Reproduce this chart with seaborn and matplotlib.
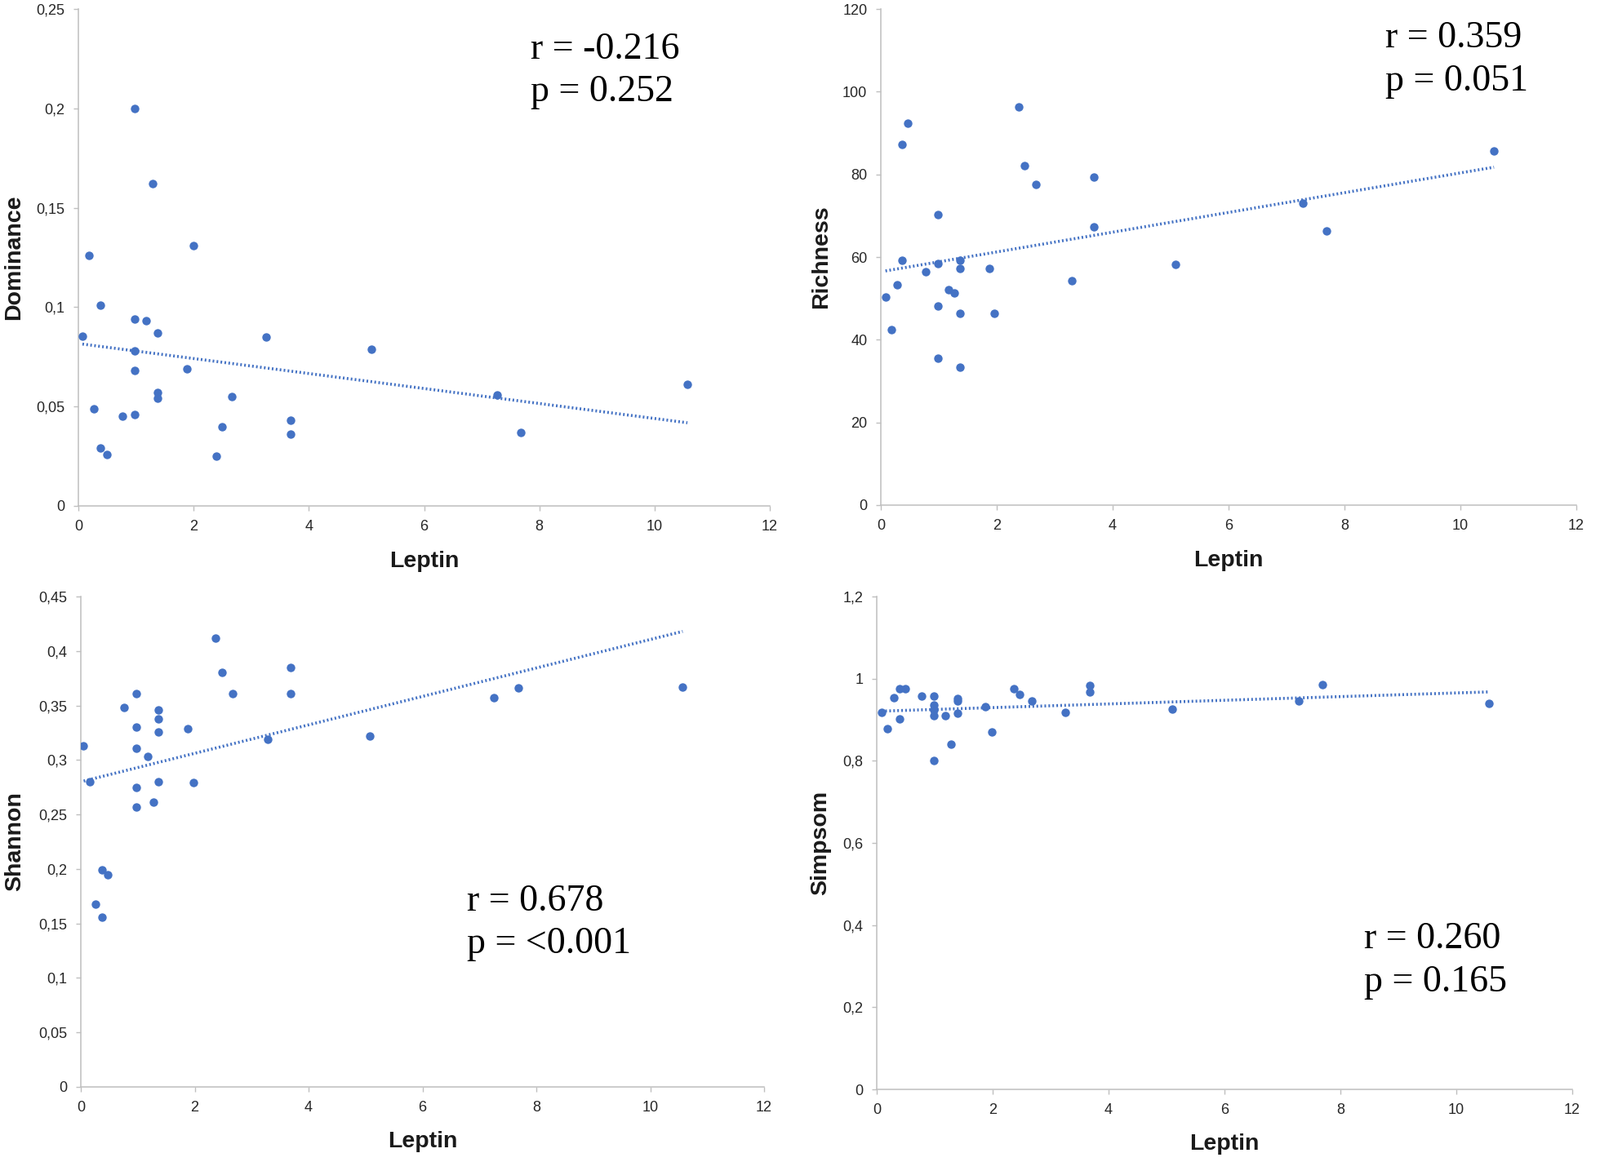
# Leptin vs gut diversity indices - 4 scatter panels with linear trend
import numpy as np
import matplotlib
matplotlib.use("Agg")
import matplotlib.pyplot as plt
import seaborn as sns
from matplotlib.ticker import FuncFormatter, MultipleLocator

# data
leptin_dom = [0.07, 0.18, 0.27, 0.38, 0.38, 0.49, 0.77, 0.98, 0.98, 0.98, 0.98, 0.98, 1.18, 1.29, 1.37,
              1.37, 1.37, 1.89, 2.00, 2.39, 2.49, 2.67, 3.26, 3.69, 3.69, 5.09, 7.27, 7.68, 10.57]
dominance = [0.0855, 0.126, 0.049, 0.101, 0.029, 0.026, 0.045, 0.200, 0.094, 0.078, 0.068, 0.046, 0.093, 0.162, 0.087,
             0.057, 0.054, 0.069, 0.131, 0.025, 0.040, 0.055, 0.085, 0.043, 0.036, 0.079, 0.056, 0.037, 0.061]

leptin_rich = [0.08, 0.18, 0.28, 0.36, 0.36, 0.47, 0.77, 0.99, 0.99, 0.99, 0.99, 1.17, 1.27, 1.37, 1.37,
               1.37, 1.37, 1.87, 1.96, 2.38, 2.48, 2.67, 3.29, 3.68, 3.68, 5.08, 7.28, 7.69, 10.58]
richness = [50.4, 42.4, 53.3, 87.3, 59.3, 92.3, 56.5, 70.2, 58.4, 48.2, 35.5, 52.2, 51.4, 59.3, 57.2,
            46.3, 33.3, 57.2, 46.3, 96.4, 82.2, 77.5, 54.3, 79.3, 67.3, 58.3, 73.1, 66.3, 85.6]

leptin_sha = [0.05, 0.16, 0.26, 0.37, 0.37, 0.47, 0.76, 0.97, 0.97, 0.97, 0.97, 0.97, 1.17, 1.28, 1.36,
              1.36, 1.36, 1.36, 1.88, 1.98, 2.37, 2.48, 2.66, 3.28, 3.68, 3.68, 5.08, 7.26, 7.68, 10.57]
shannon = [0.313, 0.280, 0.168, 0.199, 0.156, 0.195, 0.348, 0.361, 0.330, 0.311, 0.275, 0.257, 0.303, 0.261, 0.346,
           0.338, 0.326, 0.280, 0.329, 0.279, 0.412, 0.380, 0.361, 0.319, 0.385, 0.361, 0.322, 0.357, 0.366, 0.367]

leptin_sim = [0.08, 0.18, 0.29, 0.39, 0.39, 0.49, 0.77, 0.98, 0.98, 0.98, 0.98, 0.98, 1.19, 1.28, 1.40,
              1.40, 1.40, 1.88, 1.99, 2.37, 2.47, 2.68, 3.26, 3.68, 3.68, 5.10, 7.28, 7.69, 10.57]
simpsom = [0.917, 0.878, 0.953, 0.975, 0.902, 0.975, 0.957, 0.957, 0.936, 0.924, 0.909, 0.801, 0.909, 0.841, 0.951,
           0.945, 0.916, 0.932, 0.871, 0.975, 0.961, 0.946, 0.917, 0.983, 0.968, 0.925, 0.946, 0.986, 0.939]

y_names = ["Dominance", "Richness", "Shannon", "Simpsom"]
y_limits = [(0, 0.25), (0, 120), (0, 0.45), (0, 1.2)]
y_steps = [0.05, 20, 0.05, 0.2]
stats_text = [("r = -0.216", "p = 0.252"), ("r = 0.359", "p = 0.051"),
              ("r = 0.678", "p = <0.001"), ("r = 0.260", "p = 0.165")]

sns.set_style("white")
plt.rcParams["font.family"] = ["Liberation Sans", "DejaVu Sans"]

blue = "#4472C4"
W, H = 1960, 1424
fig = plt.figure(figsize=(W / 100, H / 100), dpi=100)

# axes boxes in pixels: left, top, right, bottom
boxes = [(96, 11, 943, 620), (1079, 11, 1931, 619), (99, 731, 936, 1332), (1074, 731, 1926, 1335)]
ylabel_x = [-0.078, -0.070, -0.081, -0.065]
# text spots: left x, baseline of first line, baseline of second line
text_pos = [(650, 72, 124), (1697, 58, 111), (572, 1116, 1168), (1671, 1162, 1215)]

xs = [leptin_dom, leptin_rich, leptin_sha, leptin_sim]
ys = [dominance, richness, shannon, simpsom]

comma = FuncFormatter(lambda v, pos: ("%g" % round(v, 4)).replace(".", ","))

for i in range(4):
    l, t, r, b = boxes[i]
    ax = fig.add_axes([l / W, 1 - b / H, (r - l) / W, (b - t) / H])
    sns.regplot(x=np.array(xs[i]), y=np.array(ys[i]), ax=ax, ci=None, truncate=True,
                scatter_kws=dict(s=56, color=blue, linewidths=0, alpha=1, zorder=3),
                line_kws=dict(color=blue, lw=2.6, linestyle=(0, (0.55, 0.8)), zorder=2))
    ax.set_xlim(0, 12)
    ax.set_ylim(*y_limits[i])
    ax.xaxis.set_major_locator(MultipleLocator(2))
    ax.yaxis.set_major_locator(MultipleLocator(y_steps[i]))
    ax.yaxis.set_major_formatter(comma)
    ax.xaxis.set_major_formatter(comma)
    for side in ["top", "right"]:
        ax.spines[side].set_visible(False)
    for side in ["left", "bottom"]:
        ax.spines[side].set_color("#bfbfbf")
        ax.spines[side].set_linewidth(1.1)
    ax.tick_params(axis="both", which="major", direction="out", length=4, width=1,
                   color="#bfbfbf", labelsize=13, labelcolor="#262626", pad=8,
                   left=True, bottom=True)
    ax.set_xlabel("Leptin", fontsize=20.5, fontweight="bold", color="#1a1a1a")
    ax.set_ylabel(y_names[i], fontsize=20.5, fontweight="bold", color="#1a1a1a")
    ax.xaxis.set_label_coords(0.5, -0.09)
    ax.yaxis.set_label_coords(ylabel_x[i], 0.5)
    ax.set_facecolor("white")

    tx, b1, b2 = text_pos[i]
    fig.text(tx / W, 1 - b1 / H, stats_text[i][0], fontsize=33, va="baseline", ha="left",
             family="Liberation Serif", color="black")
    fig.text(tx / W, 1 - b2 / H, stats_text[i][1], fontsize=33, va="baseline", ha="left",
             family="Liberation Serif", color="black")

fig.savefig("out.png", dpi=100, facecolor="white")
